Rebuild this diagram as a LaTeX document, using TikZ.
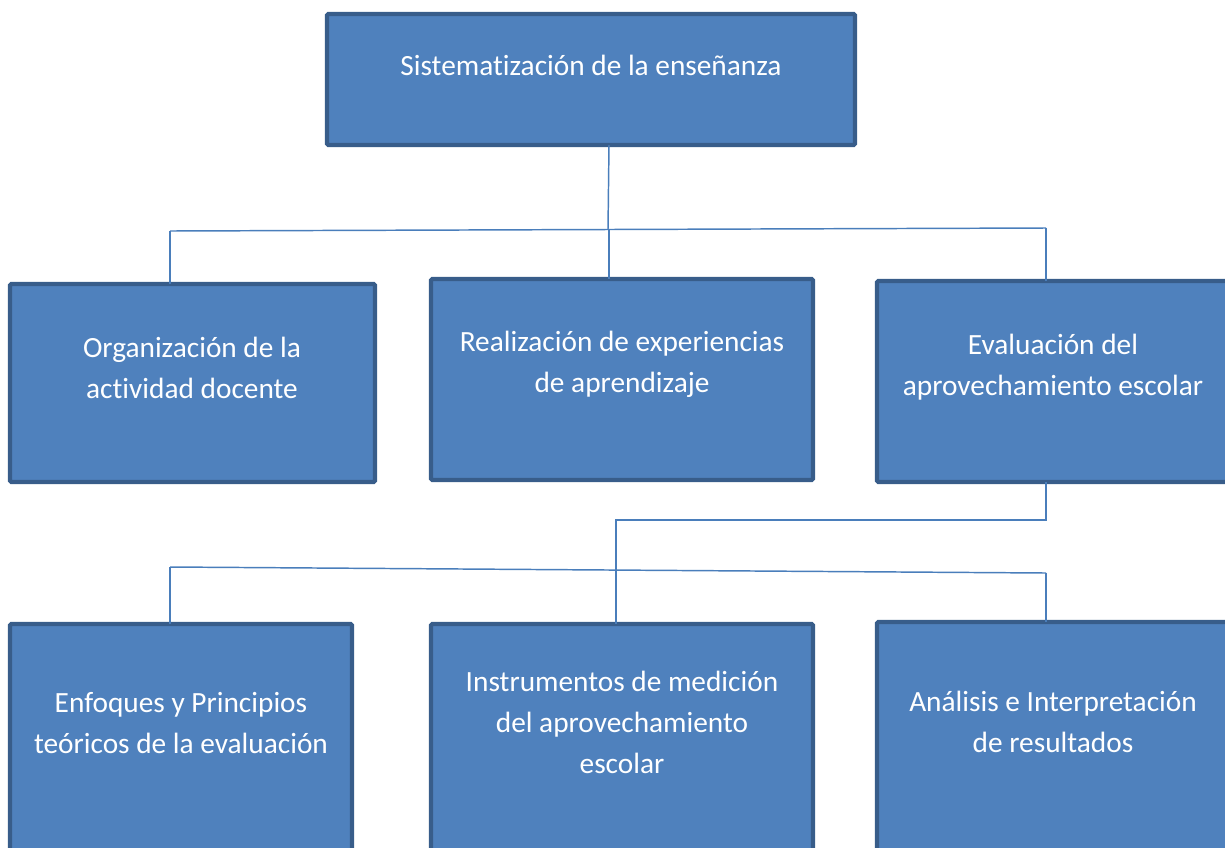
\documentclass[tikz,border=0pt]{standalone}
\usepackage{fontspec}
\setmainfont{Carlito}[RawFeature={-liga;-clig;-dlig;-calt;-rlig}]
\definecolor{boxfill}{HTML}{4F81BD}
\definecolor{boxedge}{HTML}{385D8A}
\definecolor{conncol}{HTML}{4A7EBB}
\begin{document}
\begin{tikzpicture}[x=0.75pt,y=-0.75pt,
  box/.style={draw=boxedge,fill=boxfill,line width=3.2pt,rounded corners=1pt},
  lbl/.style={text=white,align=center,inner sep=0pt,font=\fontsize{22}{30.75}\selectfont},
  conn/.style={draw=conncol,line width=1.1pt}]
\useasboundingbox (0,0) rectangle (1225,847);
\clip (0,0) rectangle (1225,847);
% boxes
\path[box] (327,14) rectangle (855,145);
\path[box] (10,284) rectangle (375,482);
\path[box] (431,279) rectangle (813,480);
\path[box] (877,281) rectangle (1240,482);
\path[box] (10,624) rectangle (352,880);
\path[box] (431,624) rectangle (813,880);
\path[box] (877,622) rectangle (1240,880);
% named anchors of boxes
\coordinate (topS) at (609,145);
\coordinate (aN) at (170,284);
\coordinate (bN) at (609,279);
\coordinate (cN) at (1046,281);
\coordinate (cS) at (1046,482);
\coordinate (dN) at (170,624);
\coordinate (eN) at (616,624);
\coordinate (fN) at (1046,622);
% junctions
\coordinate (j1) at (608,229.5);
\coordinate (jb) at (609,229.5);
\coordinate (jl1) at (170,231);
\coordinate (jr1) at (1046,228);
\coordinate (j2) at (1046,520);
\coordinate (j3) at (616,520);
\coordinate (jl2) at (170,567);
\coordinate (jr2) at (1046,573);
% connectors
\draw[conn] (topS) -- (j1);
\draw[conn] (jl1) -- (jr1);
\draw[conn] (aN) -- (jl1);
\draw[conn] (bN) -- (jb);
\draw[conn] (cN) -- (jr1);
\draw[conn] (cS) -- (j2) -- (j3) -- (eN);
\draw[conn] (jl2) -- (jr2);
\draw[conn] (dN) -- (jl2);
\draw[conn] (fN) -- (jr2);
% labels
\node[lbl] (tTop) at (591,65) {Sistematización de la enseñanza};
\node[lbl] (tA) at (192,368) {Organización de la\\actividad docente};
\node[lbl] (tB) at (622,364) {Realización de experiencias\\de aprendizaje};
\node[lbl] (tC) at (1053,367) {Evaluación del\\aprovechamiento escolar};
\node[lbl] (tD) at (181,723) {Enfoques y Principios\\teóricos de la evaluación};
\node[lbl] (tE) at (622,722) {Instrumentos de medición\\del aprovechamiento\\escolar};
\node[lbl] (tF) at (1053,722) {Análisis e Interpretación\\de resultados};
\end{tikzpicture}
\end{document}
